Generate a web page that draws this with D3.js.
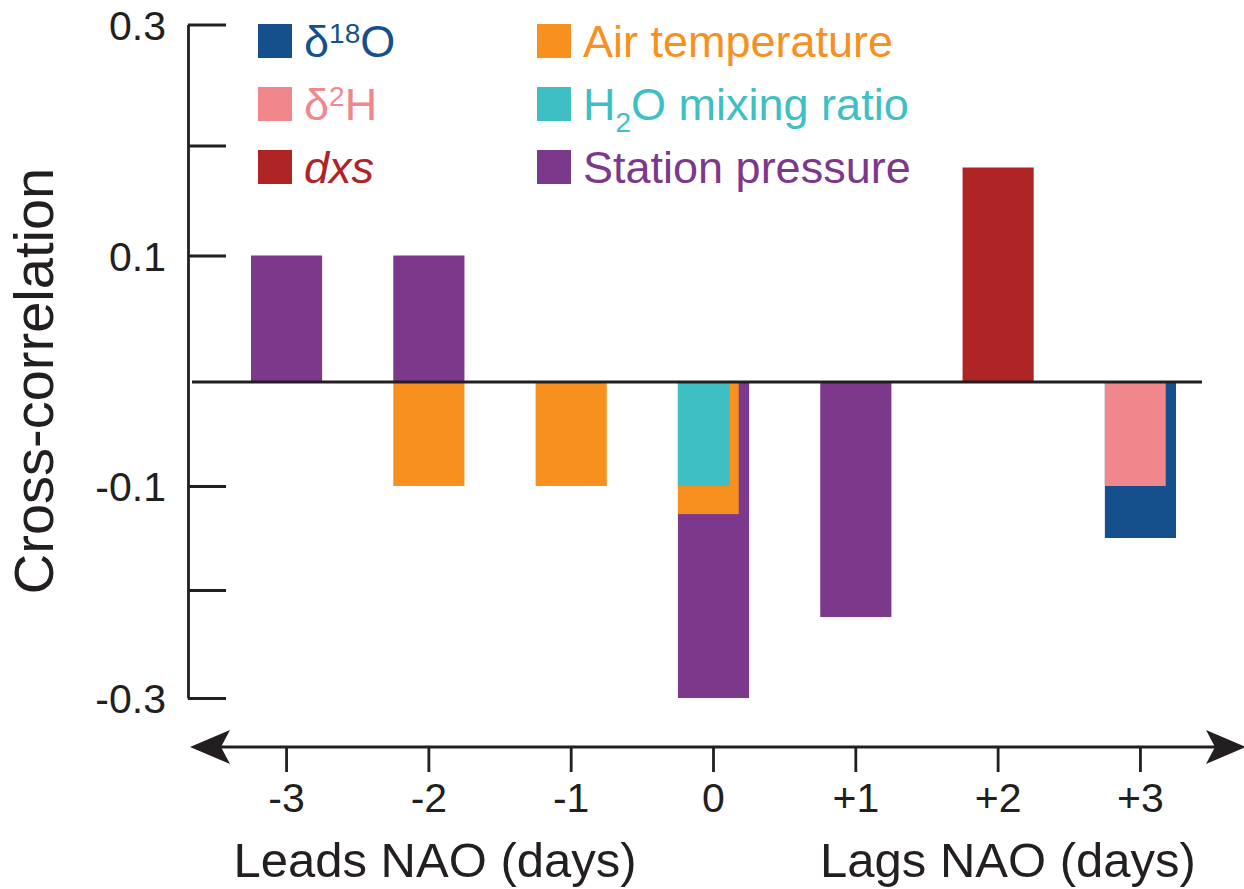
<!DOCTYPE html>
<html>
<head>
<meta charset="utf-8">
<script src="https://cdn.jsdelivr.net/npm/d3@7"></script>
<style>
  html, body { margin: 0; padding: 0; background: #fff; }
  svg { display: block; font-family: "Liberation Sans", Arial, Helvetica, sans-serif; }
</style>
</head>
<body>
<svg id="chart" width="1244" height="889"></svg>
<script>
// ---- data ----
const lags = ["-3", "-2", "-1", "0", "+1", "+2", "+3"];
const d18O        = [null, null, null, null, null, null, -0.15];
const d2H         = [null, null, null, null, null, null, -0.10];
const dxs         = [null, null, null, null, null, 0.18, null];
const airTemp     = [null, -0.10, -0.10, -0.127, null, null, null];
const h2oMixing   = [null, null, null, -0.10, null, null, null];
const stationPres = [0.10, 0.10, null, -0.30, -0.225, null, null];
const yTickValues = [-0.3, -0.2, -0.1, 0.1, 0.2, 0.3];
const yTickLabels = ["-0.3", "", "-0.1", "0.1", "", "0.3"];
const yAxisTitle = "Cross-correlation";
const leadsLabel = "Leads NAO (days)";
const lagsLabel = "Lags NAO (days)";

const series = [
  { key: "d18O", values: d18O, color: "#15508c" },
  { key: "d2H", values: d2H, color: "#f1878c" },
  { key: "dxs", values: dxs, color: "#af2424" },
  { key: "air", values: airTemp, color: "#f7901e" },
  { key: "h2o", values: h2oMixing, color: "#3dbfc4" },
  { key: "pres", values: stationPres, color: "#7c398b" }
];

// ---- layout ----
const ink = "#231f20";
const svg = d3.select("#chart");

const x = d3.scaleBand().domain(lags).range([215.4, 1211.6])
  .paddingInner(0.5).paddingOuter(0.25);

// hand-drawn axis in the original is not evenly spaced: piecewise-linear scale
const y = d3.scaleLinear()
  .domain([-0.3, -0.2, -0.1, 0, 0.1, 0.2, 0.3])
  .range([698, 590, 486, 382, 255.5, 145.5, 24.5]);

// ---- bars ----
// overlapping bars at same lag & sign are nested (largest full width)
const rankWidth = [1, 0.855, 0.73];
const bars = [];
lags.forEach((lag, i) => {
  [1, -1].forEach(sign => {
    const group = series
      .filter(s => s.values[i] != null && Math.sign(s.values[i]) === sign)
      .map(s => ({ lag, value: s.values[i], color: s.color }))
      .sort((a, b) => Math.abs(b.value) - Math.abs(a.value));
    group.forEach((d, r) => { d.frac = rankWidth[r]; bars.push(d); });
  });
});

svg.append("g").selectAll("rect").data(bars).join("rect")
  .attr("x", d => x(d.lag))
  .attr("width", d => x.bandwidth() * d.frac)
  .attr("y", d => Math.min(y(d.value), y(0)))
  .attr("height", d => Math.abs(y(d.value) - y(0)))
  .attr("fill", d => d.color);

// ---- zero line ----
svg.append("line")
  .attr("x1", 192).attr("x2", 1202)
  .attr("y1", y(0)).attr("y2", y(0))
  .attr("stroke", ink).attr("stroke-width", 2.8);

// ---- y axis ----
const yAxis = d3.axisLeft(y)
  .tickValues(yTickValues)
  .tickFormat((d, i) => yTickLabels[i])
  .tickSizeInner(-38).tickSizeOuter(0).tickPadding(22);
const yg = svg.append("g").attr("transform", "translate(188,0)").call(yAxis);
yg.select(".domain").attr("stroke", ink).attr("stroke-width", 2.8);
yg.selectAll(".tick line").attr("stroke", ink).attr("stroke-width", 2.8);
yg.selectAll(".tick text").attr("fill", ink)
  .style("font-size", "41px").attr("dy", "0.36em").attr("font-family", null);

svg.append("text")
  .attr("transform", "translate(53,381) rotate(-90)")
  .attr("text-anchor", "middle")
  .attr("fill", ink)
  .style("font-size", "56px")
  .text(yAxisTitle);

// ---- x axis with arrows ----
const defs = svg.append("defs");
defs.append("marker").attr("id", "arrowEnd")
  .attr("viewBox", "0 0 40 34").attr("refX", 38).attr("refY", 17)
  .attr("markerWidth", 40).attr("markerHeight", 34).attr("markerUnits", "userSpaceOnUse")
  .attr("orient", "auto")
  .append("path").attr("d", "M0,0 L40,17 L0,34 L9,17 Z").attr("fill", ink);

const axisY = 747;
svg.append("line")
  .attr("x1", 196).attr("x2", 1240)
  .attr("y1", axisY).attr("y2", axisY)
  .attr("stroke", ink).attr("stroke-width", 2.8);
svg.append("line").attr("x1", 230).attr("x2", 192).attr("y1", axisY).attr("y2", axisY)
  .attr("stroke", "none").attr("marker-end", "url(#arrowEnd)");
svg.append("line").attr("x1", 1200).attr("x2", 1244).attr("y1", axisY).attr("y2", axisY)
  .attr("stroke", "none").attr("marker-end", "url(#arrowEnd)");

const xAxis = d3.axisBottom(x).tickSizeInner(25).tickSizeOuter(0).tickPadding(11);
const xg = svg.append("g").attr("transform", `translate(0,${axisY})`).call(xAxis);
xg.select(".domain").remove();
xg.selectAll(".tick line").attr("stroke", ink).attr("stroke-width", 2.8);
xg.selectAll(".tick text").attr("fill", ink)
  .style("font-size", "41px").attr("font-family", null);

svg.append("text").attr("x", 435).attr("y", 877).attr("text-anchor", "middle")
  .attr("fill", ink).style("font-size", "49px").text(leadsLabel);
svg.append("text").attr("x", 1008).attr("y", 877).attr("text-anchor", "middle")
  .attr("fill", ink).style("font-size", "49px").text(lagsLabel);

// ---- legend ----
const legendItems = [
  { key: "d18O", col: 0, row: 0 },
  { key: "d2H", col: 0, row: 1 },
  { key: "dxs", col: 0, row: 2 },
  { key: "air", col: 1, row: 0 },
  { key: "h2o", col: 1, row: 1 },
  { key: "pres", col: 1, row: 2 }
];
const colX = [258, 537], rowY = [24, 87, 150], sq = 34;
const color = k => series.find(s => s.key === k).color;
const lg = svg.append("g");
legendItems.forEach(it => {
  const gx = colX[it.col], gy = rowY[it.row];
  lg.append("rect").attr("x", gx).attr("y", gy).attr("width", sq).attr("height", sq)
    .attr("fill", color(it.key));
  const t = lg.append("text").attr("x", gx + 46).attr("y", gy + 33)
    .attr("fill", color(it.key)).style("font-size", "45px");
  if (it.key === "d18O") {
    t.append("tspan").text("δ");
    t.append("tspan").attr("dy", -14).style("font-size", "28px").text("18");
    t.append("tspan").attr("dy", 14).text("O");
  } else if (it.key === "d2H") {
    t.append("tspan").text("δ");
    t.append("tspan").attr("dy", -14).style("font-size", "28px").text("2");
    t.append("tspan").attr("dy", 14).text("H");
  } else if (it.key === "dxs") {
    t.style("font-style", "italic").text("dxs");
  } else if (it.key === "air") {
    t.text("Air temperature");
  } else if (it.key === "h2o") {
    t.append("tspan").text("H");
    t.append("tspan").attr("dy", 12).style("font-size", "28px").text("2");
    t.append("tspan").attr("dy", -12).text("O mixing ratio");
  } else {
    t.text("Station pressure");
  }
});
</script>
</body>
</html>
